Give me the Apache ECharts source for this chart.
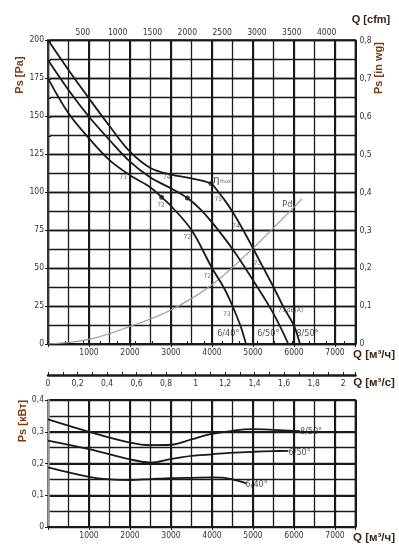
<!DOCTYPE html>
<html><head><meta charset="utf-8">
<script src="https://cdn.jsdelivr.net/npm/echarts@6/dist/echarts.min.js"></script>
<style>html,body{margin:0;padding:0;background:#fff}#c{width:399px;height:558px}</style>
</head><body><div id="c"></div>
<script>
// ---- Pressure curves (Q in m3/h, Ps in Pa)
const q_8_50  = [0, 500, 1000, 1500, 2000, 2500, 3000, 3500, 3976, 4100, 4300, 4500, 4750, 5000, 5250, 5500, 5750, 6000, 6146];
const ps_8_50 = [200, 180.3, 161.6, 143.4, 126.5, 115.8, 111.5, 109, 105.6, 102, 95, 87, 75.5, 63, 50.2, 37.5, 24, 12, 0];
const q_6_50  = [0, 500, 1000, 1500, 2000, 2500, 3000, 3400, 3700, 4000, 4500, 5000, 5500, 5862];
const ps_6_50 = [186.8, 167.1, 149.5, 134.2, 120, 109.5, 102.4, 96, 89, 80, 62.5, 42, 20, 0];
const q_6_40  = [0, 500, 1000, 1500, 2000, 2500, 2773, 3000, 3500, 4000, 4300, 4500, 4700, 4830];
const ps_6_40 = [174.8, 151.8, 135.3, 121, 111, 103, 96.5, 90.8, 75, 50, 36.5, 25, 11.5, 0];
// dynamic pressure
const q_pd  = [0, 1000, 2000, 3000, 4000, 5000, 6000, 6190];
const ps_pd = [0, 3, 11.5, 22.4, 39, 63, 90, 95.5];
// marked points
const dotQ  = [2773, 3400, 3976];
const dotPs = [96.5, 96, 105.6];
// sound / efficiency labels
const effQ    = [1837, 2894, 2756, 4154, 4585, 3398, 5106, 3886, 4358, 5700];
const effPs   = [109.7, 109.7, 91, 95.2, 77.6, 70, 53, 44.7, 19.7, 22];
const effText = ['73', '74', '72', '75', '74', '72', '73', '72', '73', '73'];
const curveNames = ['6/40°', '6/50°', '8/50°'];
const nameQ  = [4398, 5374, 6329];
const namePs = [7, 7, 7];
// ---- Power curves (kW)
const kq_8_50 = [0, 1000, 2000, 2500, 3000, 3500, 4000, 4500, 5000, 5500, 6146];
const kw_8_50 = [0.339, 0.300, 0.266, 0.258, 0.259, 0.276, 0.293, 0.303, 0.308, 0.306, 0.302];
const kq_6_50 = [0, 1000, 2000, 2500, 3000, 3500, 4000, 4500, 5000, 5500, 5862];
const kw_6_50 = [0.272, 0.245, 0.213, 0.203, 0.214, 0.224, 0.229, 0.234, 0.237, 0.239, 0.240];
const kq_6_40 = [0, 1000, 1500, 2000, 2500, 3000, 3500, 4000, 4300, 4500, 4830];
const kw_6_40 = [0.188, 0.158, 0.150, 0.148, 0.151, 0.154, 0.155, 0.156, 0.155, 0.150, 0.138];
const kNameQ  = [5090, 6139, 6415];
const kNameKw = [0.134, 0.234, 0.300];
// ---- axes
const Q_MAX = 7500;
const CFM_MAX = Q_MAX / 1.69901;
const WG_MAX = 200 / 249.089;
const M3S_MAX = Q_MAX / 3600;

const F = "'Liberation Sans Narrow','DejaVu Sans Condensed',sans-serif";
const TF = "'Liberation Sans',Arial,sans-serif";
const INK = '#1a1a1a';
const zip = (a, b) => a.map((v, i) => [v, b[i]]);
const comma = v => {
  const r = Math.round(v * 1000) / 1000;
  if (Math.abs(r * 10 - Math.round(r * 10)) > 1e-6) return '';
  if (r === 0) return '0';
  if (Number.isInteger(r)) return String(r);
  return r.toFixed(1).replace('.', ',');
};
const comma2 = v => {
  const r = Math.round(v * 1000) / 1000;
  if (Math.abs(r * 5 - Math.round(r * 5)) > 1e-6) return '';
  if (r === 0) return '0';
  if (Number.isInteger(r)) return String(r);
  return r.toFixed(1).replace('.', ',');
};
const qFmt = v => (v > 0 && v % 1000 === 0) ? String(v) : '';
const lbl = {fontFamily: F, fontSize: 8.5, color: '#333'};
const thick = {show: true, lineStyle: {color: INK, width: 2}};
const thin = {show: true, lineStyle: {color: INK, width: 1.3}};
const hidden = {axisLine: {show: false}, axisTick: {show: false}, axisLabel: {show: false}};

const chart = echarts.init(document.getElementById('c'), null, {renderer: 'canvas'});
const curve = (q, p, xi, yi, color, w) => ({
  type: 'line', xAxisIndex: xi, yAxisIndex: yi, data: zip(q, p), symbol: 'none',
  smooth: 0.35, lineStyle: {color: color, width: w}, silent: true, z: 5
});
const textItems = (qs, ps, texts, size, color) => qs.map((q, i) => ({
  value: [q, ps[i]],
  label: {show: true, formatter: texts[i], position: 'inside', fontFamily: F, fontSize: size, color: color}
}));

chart.setOption({
  animation: false,
  backgroundColor: '#fff',
  grid: [
    {left: 48, top: 40, width: 307.5, height: 304, show: true, borderColor: INK, borderWidth: 1.5},
    {left: 48, top: 400, width: 307.5, height: 127, show: true, borderColor: INK, borderWidth: 1.5}
  ],
  xAxis: [
    {gridIndex: 0, type: 'value', position: 'bottom', min: 0, max: Q_MAX, interval: 1000,
     axisLine: {lineStyle: {color: INK, width: 2}}, axisTick: {length: 3, lineStyle: {color: INK}},
     axisLabel: Object.assign({margin: 4, formatter: qFmt}, lbl), splitLine: thick},
    Object.assign({gridIndex: 0, type: 'value', position: 'bottom', min: 0, max: Q_MAX, interval: 500, splitLine: thin}, hidden),
    {gridIndex: 0, type: 'value', position: 'top', min: 0, max: CFM_MAX, interval: 250,
     axisLine: {lineStyle: {color: INK, width: 2}}, axisTick: {length: 3, lineStyle: {color: INK}},
     axisLabel: Object.assign({margin: 3, formatter: v => (Math.abs(v % 500) < 1e-6 && v > 0) ? v : ''}, lbl), splitLine: {show: false}},
    {gridIndex: 1, type: 'value', position: 'bottom', min: 0, max: Q_MAX, interval: 1000,
     axisLine: {lineStyle: {color: INK, width: 2}}, axisTick: {length: 3, lineStyle: {color: INK}},
     axisLabel: Object.assign({margin: 4, formatter: qFmt}, lbl), splitLine: thick},
    Object.assign({gridIndex: 1, type: 'value', position: 'bottom', min: 0, max: Q_MAX, interval: 500, splitLine: thin}, hidden),
    {gridIndex: 1, type: 'value', position: 'top', offset: 25, min: 0, max: M3S_MAX, interval: 0.1,
     axisLine: {lineStyle: {color: INK, width: 2.5}}, axisTick: {length: 3, lineStyle: {color: INK}},
     axisLabel: Object.assign({inside: true, margin: 4, formatter: comma2}, lbl), splitLine: {show: false}}
  ],
  yAxis: [
    {gridIndex: 0, type: 'value', position: 'left', min: 0, max: 200, interval: 25,
     axisLine: {show: true, lineStyle: {color: '#9a9a9a', width: 2.5}}, axisTick: {show: true, length: 3, lineStyle: {color: INK}},
     axisLabel: Object.assign({margin: 4}, lbl), splitLine: thin},
    Object.assign({gridIndex: 0, type: 'value', position: 'left', min: 0, max: 200, interval: 12.5, splitLine: thin}, hidden),
    {gridIndex: 0, type: 'value', position: 'right', min: 0, max: WG_MAX, interval: 0.05,
     axisLine: {show: true, lineStyle: {color: INK, width: 1.5}}, axisTick: {show: true, length: 3, lineStyle: {color: INK}},
     axisLabel: Object.assign({margin: 4, formatter: comma}, lbl), splitLine: {show: false}},
    {gridIndex: 1, type: 'value', position: 'left', min: 0, max: 0.4, interval: 0.1,
     axisLine: {show: true, lineStyle: {color: '#9a9a9a', width: 2.5}}, axisTick: {show: true, length: 3, lineStyle: {color: INK}},
     axisLabel: Object.assign({margin: 4, formatter: comma}, lbl), splitLine: thick},
    Object.assign({gridIndex: 1, type: 'value', position: 'left', min: 0, max: 0.4, interval: 0.05, splitLine: thin}, hidden)
  ],
  series: [
    curve(q_pd, ps_pd, 0, 0, '#9a9a9a', 1.2),
    curve(q_8_50, ps_8_50, 0, 0, INK, 1.8),
    curve(q_6_50, ps_6_50, 0, 0, INK, 1.8),
    curve(q_6_40, ps_6_40, 0, 0, INK, 1.8),
    {type: 'scatter', xAxisIndex: 0, yAxisIndex: 0, data: zip(dotQ, dotPs), symbolSize: 5,
     itemStyle: {color: INK}, silent: true, z: 6},
    {type: 'scatter', xAxisIndex: 0, yAxisIndex: 0, symbolSize: 1, itemStyle: {color: 'rgba(0,0,0,0)'}, silent: true, z: 7,
     data: textItems(effQ, effPs, effText, 6.5, '#444')
       .concat(textItems(nameQ, namePs, curveNames, 9, '#222'))
       .concat(textItems([5837], [91.4], ['Pd'], 9, '#222'))
       .concat(textItems([6024], [22], ['dB(A)'], 6.5, '#444'))
       .concat([{value: [4020, 107.9], label: {show: true, position: 'right', distance: 0,
         formatter: '{e|η}{m|max}', rich: {e: {fontFamily: TF, fontSize: 11, color: '#222'}, m: {fontFamily: F, fontSize: 6, color: '#444', padding: [3, 0, 0, 0]}}}}])},
    curve(kq_8_50, kw_8_50, 3, 3, INK, 1.8),
    curve(kq_6_50, kw_6_50, 3, 3, INK, 1.8),
    curve(kq_6_40, kw_6_40, 3, 3, INK, 1.8),
    {type: 'scatter', xAxisIndex: 3, yAxisIndex: 3, symbolSize: 1, itemStyle: {color: 'rgba(0,0,0,0)'}, silent: true, z: 7,
     data: textItems(kNameQ, kNameKw, curveNames, 9, '#222')}
  ],
  graphic: [
    {type: 'text', x: 20, y: 75, rotation: Math.PI / 2, style: {text: 'Ps [Pa]', font: 'bold 11px ' + TF, fill: '#7a3d12', align: 'center', verticalAlign: 'middle'}},
    {type: 'text', x: 379, y: 68, rotation: Math.PI / 2, style: {text: 'Ps [in wg]', font: 'bold 11px ' + TF, fill: '#7a3d12', align: 'center', verticalAlign: 'middle'}},
    {type: 'text', x: 23, y: 421, rotation: Math.PI / 2, style: {text: 'Ps [кВт]', font: 'bold 11px ' + TF, fill: '#7a3d12', align: 'center', verticalAlign: 'middle'}},
    {type: 'text', x: 371, y: 20, style: {text: 'Q [cfm]', font: 'bold 11px ' + TF, fill: '#3b2414', align: 'center', verticalAlign: 'middle'}},
    {type: 'text', x: 374, y: 355, style: {text: 'Q [м³/ч]', font: 'bold 11.5px ' + TF, fill: '#3b2414', align: 'center', verticalAlign: 'middle'}},
    {type: 'text', x: 374, y: 383, style: {text: 'Q [м³/с]', font: 'bold 11.5px ' + TF, fill: '#3b2414', align: 'center', verticalAlign: 'middle'}},
    {type: 'text', x: 374, y: 538, style: {text: 'Q [м³/ч]', font: 'bold 11.5px ' + TF, fill: '#3b2414', align: 'center', verticalAlign: 'middle'}}
  ]
});
</script></body></html>
